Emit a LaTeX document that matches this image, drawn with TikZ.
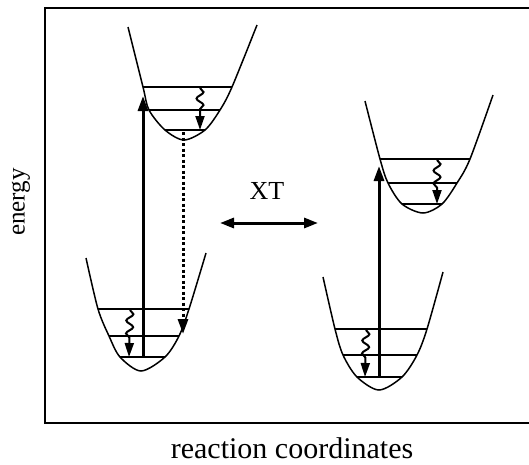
\documentclass[tikz,border=0pt]{standalone}
\usepackage{fontspec}
\setmainfont{Liberation Serif}
\usetikzlibrary{arrows.meta,decorations.pathmorphing}
\begin{document}
\begin{tikzpicture}[x=1pt,y=-1pt,
  well/.style={line width=1.5pt},
  level/.style={line width=1.5pt},
  frame/.style={line width=1.6pt},
  excite/.style={line width=3pt,-{Triangle[width=10pt,length=15pt]}},
  emit/.style={line width=3pt,dash pattern=on 3pt off 2.5pt,-{Triangle[width=10pt,length=15pt]}},
  relax/.style={line width=2pt,-{Triangle[width=9pt,length=14pt]},
    decorate,decoration={snake,amplitude=3.5pt,segment length=13pt,post length=15pt}},
  xt/.style={line width=3pt,{Triangle[width=10pt,length=14pt]}-{Triangle[width=10pt,length=14pt]}},
  lab/.style={inner sep=0pt,font=\fontsize{26}{28}\selectfont}]
\useasboundingbox (0,0) rectangle (529,464);
% frame
\draw[frame] (529,8) -- (45,8) -- (45,423) -- (529,423);
% wells
\draw[well] plot[smooth] coordinates {(128,27) (143,87) (149,110) (165,130) (184,140) (205,130) (220,110) (232,87) (257,25)};
\draw[well] plot[smooth] coordinates {(86,258) (98,309) (109,336) (120,357) (141,371) (165,357) (179,336) (189,309) (206,253)};
\draw[well] plot[smooth] coordinates {(365,101) (380,159) (388,183) (402,204) (423,213) (442,204) (457,183) (470,159) (493,95)};
\draw[well] plot[smooth] coordinates {(323,277) (335,329) (343,355) (357,377) (379,390) (402,377) (417,355) (427,329) (443,272)};
% levels
\draw[level] (143,87) -- (232,87) (149,110) -- (220,110) (165,130) -- (205,130);
\draw[level] (98,309) -- (189,309) (109,336) -- (179,336) (120,357) -- (165,357);
\draw[level] (380,159) -- (470,159) (388,183) -- (457,183) (402,204) -- (442,204);
\draw[level] (335,329) -- (427,329) (343,355) -- (417,355) (357,377) -- (402,377);
% coordinates
\coordinate (a1) at (143,357); \coordinate (a2) at (143,96);
\coordinate (d1) at (183,132); \coordinate (d2) at (183,334);
\coordinate (w1) at (200,88); \coordinate (w2) at (200,130);
\coordinate (w3) at (130,310); \coordinate (w4) at (129,357);
\coordinate (w5) at (437,160); \coordinate (w6) at (437,204);
\coordinate (w7) at (366,330); \coordinate (w8) at (365,377);
\coordinate (b1) at (379,377); \coordinate (b2) at (379,166);
\coordinate (x1) at (220,223); \coordinate (x2) at (318,223);
% arrows
\draw[excite] (a1) -- (a2);
\draw[excite] (b1) -- (b2);
\draw[emit] (d1) -- (d2);
\draw[relax] (w1) -- (w2);
\draw[relax] (w3) -- (w4);
\draw[relax] (w5) -- (w6);
\draw[relax] (w7) -- (w8);
\draw[xt] (x1) -- (x2);
% labels
\node[lab] (t) at (267,191) {XT};
\node[lab,rotate=90,font=\fontsize{25}{28}\selectfont] (e) at (21,202) {energy};
\node[lab,font=\fontsize{30}{32}\selectfont,anchor=base] (r) at (292,458) {reaction coordinates};
\end{tikzpicture}
\end{document}
